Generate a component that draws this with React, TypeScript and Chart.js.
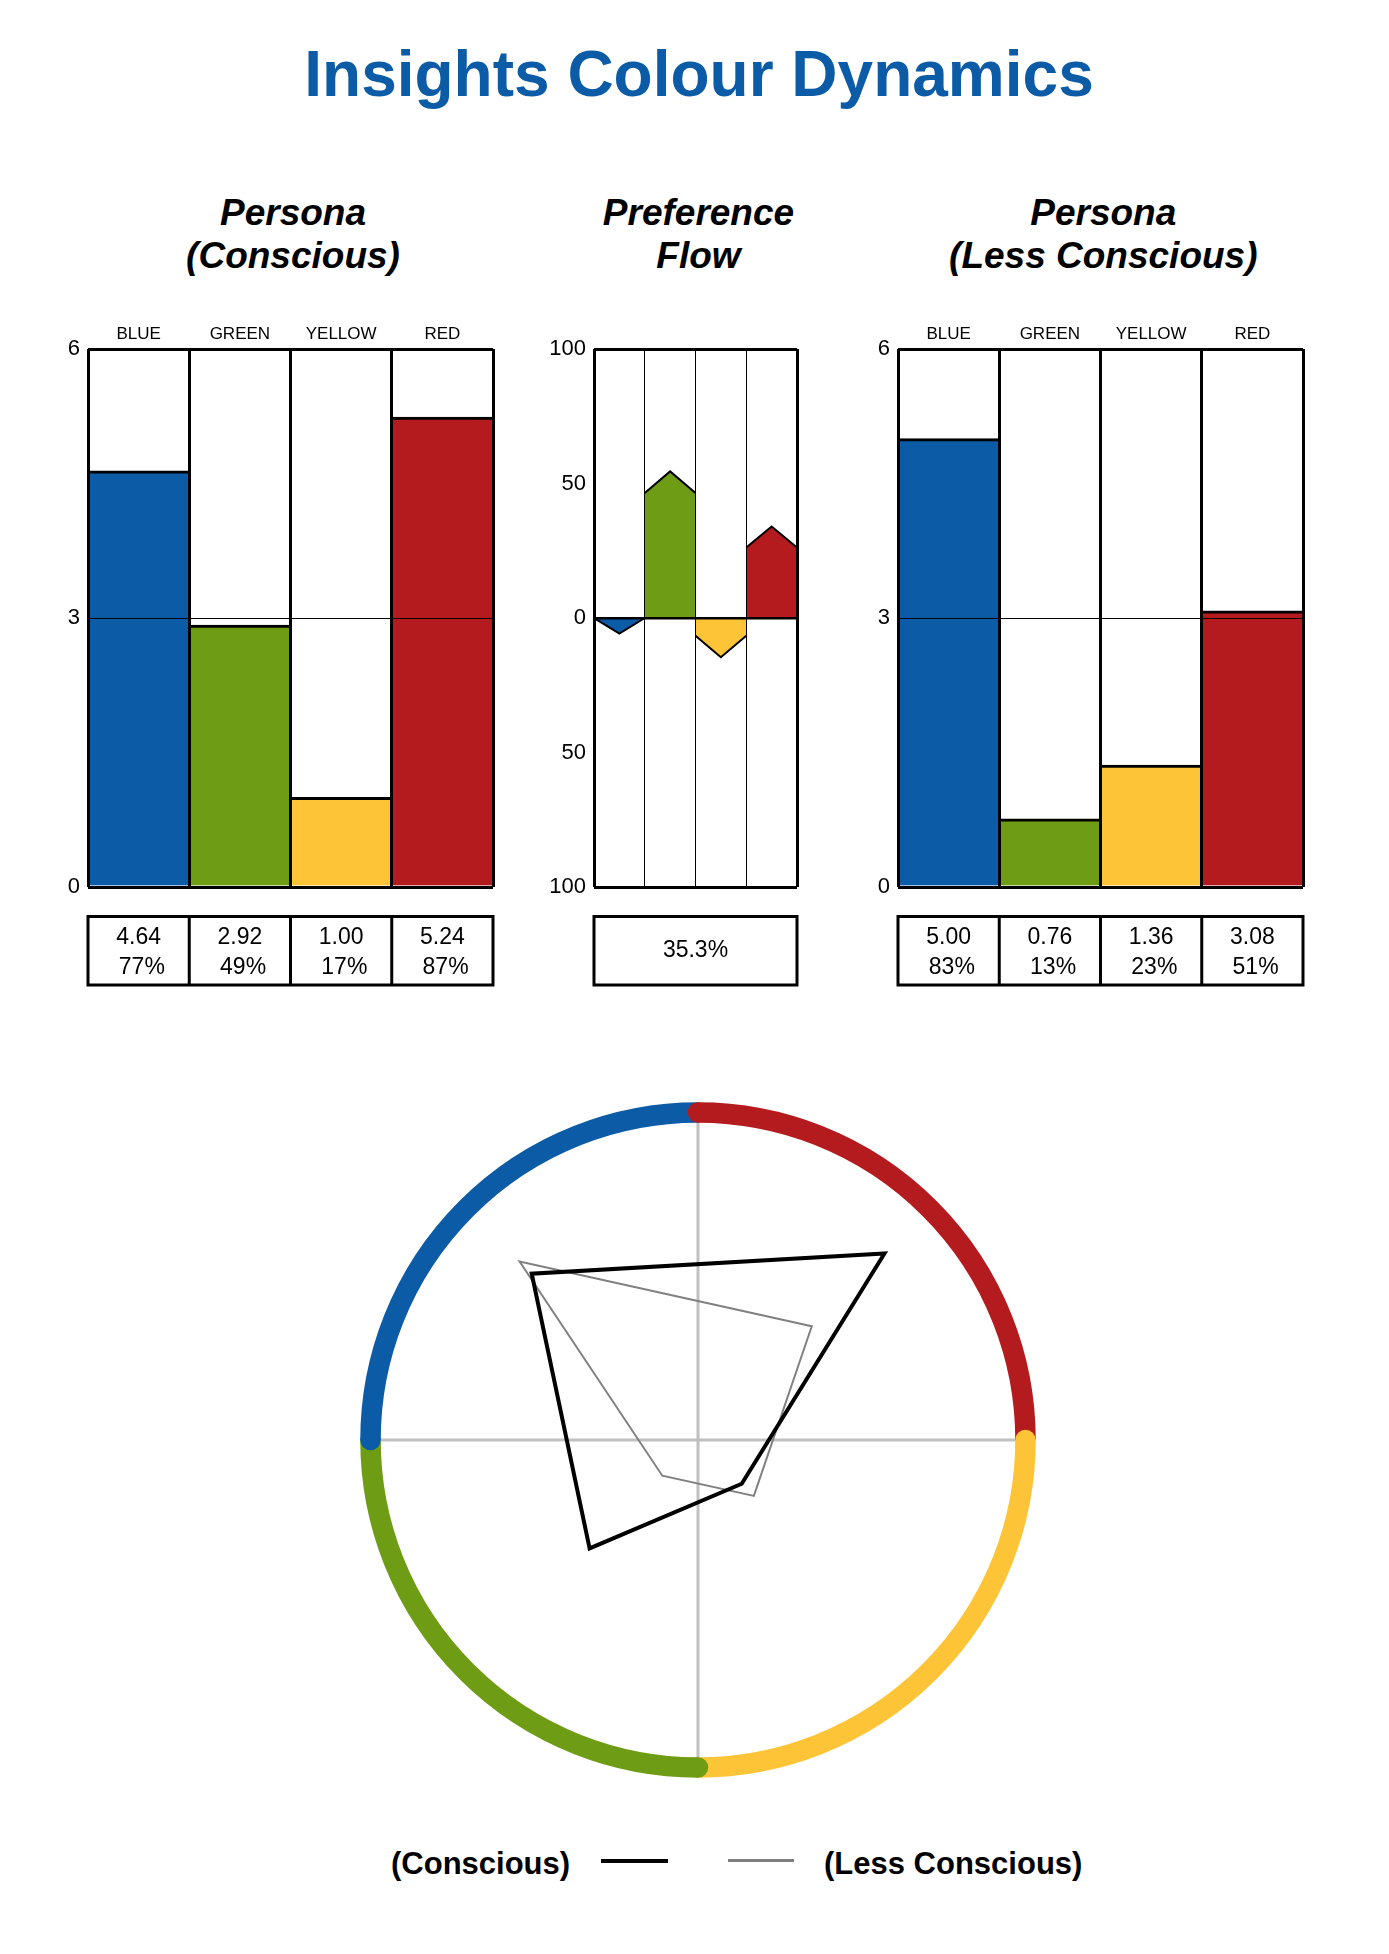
import React, { useEffect, useRef } from "react";
import { Chart, registerables } from "chart.js";

Chart.register(...registerables);

const FONT = '"Liberation Sans", Arial, Helvetica, sans-serif';
Chart.defaults.font.family = FONT;
Chart.defaults.color = "#000";

// ---------- data ----------
const categories = ["BLUE", "GREEN", "YELLOW", "RED"];
const colours = ["#0b5ba6", "#6f9c15", "#fdc437", "#b41b1f"];
const consciousScores = [4.64, 2.92, 1.0, 5.24];
const lessConsciousScores = [5.0, 0.76, 1.36, 3.08];
const personaMax = 6;
const personaTicks = [0, 3, 6];
const flowBase = [0, 46.5, -6.6, 26.2];
const flowTip = [-5.8, 54.5, -14.6, 34.0];
const flowTicks = [-100, -50, 0, 50, 100];
const flowScore = "35.3%";
const wheelSlots = ["", "RED", "", "YELLOW", "", "GREEN", "", "BLUE"];
const legendLabels = ["(Conscious)", "(Less Conscious)"];
const titleText = "Insights Colour Dynamics";
const panelTitles = [
  ["Persona", "(Conscious)"],
  ["Preference", "Flow"],
  ["Persona", "(Less Conscious)"],
];

// ---------- layout ----------
const BLUE_TITLE = "#0b5ba6";
const AXIS_W = 60;
const AXIS_H = 49;
const CANVAS_TOP = 300;
const CANVAS_H = 720;
const PLOT_H = 538;
const PAD_RIGHT = 10;
const PAD_BOTTOM = CANVAS_H - AXIS_H - PLOT_H;
const LEFT_AREA = 88;
const MID_AREA = 594;
const RIGHT_AREA = 898;
const WIDE_W = 405;
const MID_W = 203;

const valueTable = {
  id: "valueTable",
  afterDraw(chart: any, _args: any, opts: any) {
    const rows: string[][] = opts && opts.rows;
    if (!rows) return;
    const { ctx, chartArea: a } = chart;
    const top = a.bottom + 29.5;
    const h = 68.5;
    const n = rows.length;
    const w = (a.right - a.left) / n;
    ctx.save();
    ctx.strokeStyle = "#000";
    ctx.lineWidth = 3;
    ctx.strokeRect(a.left, top, a.right - a.left, h);
    for (let i = 1; i < n; i++) {
      ctx.beginPath();
      ctx.moveTo(a.left + i * w, top);
      ctx.lineTo(a.left + i * w, top + h);
      ctx.stroke();
    }
    ctx.fillStyle = "#000";
    ctx.font = `23px ${FONT}`;
    ctx.textAlign = "center";
    ctx.textBaseline = "alphabetic";
    rows.forEach((lines, i) => {
      const cx = a.left + (i + 0.5) * w;
      const bases = lines.length === 1 ? [40] : [27.2, 57.2];
      lines.forEach((t, j) => ctx.fillText(t, cx, top + bases[j]));
    });
    ctx.restore();
  },
};

const wheelRing = {
  id: "wheelRing",
  afterDatasetsDraw(chart: any) {
    const r = chart.scales.r;
    const { ctx } = chart;
    const radius = r.drawingArea + 9.5;
    const width = 20.5;
    const segs = wheelSlots.filter(Boolean);
    const start = (k: number) => -Math.PI / 2 + (k * 2 * Math.PI) / segs.length;
    ctx.save();
    ctx.lineWidth = width;
    ctx.lineCap = "butt";
    segs.forEach((name, k) => {
      ctx.strokeStyle = colours[categories.indexOf(name)];
      ctx.beginPath();
      ctx.arc(r.xCenter, r.yCenter, radius, start(k), start(k + 1));
      ctx.stroke();
    });
    segs.forEach((name, k) => {
      const a0 = start(k);
      ctx.fillStyle = colours[categories.indexOf(name)];
      ctx.beginPath();
      ctx.arc(r.xCenter + radius * Math.cos(a0), r.yCenter + radius * Math.sin(a0), width / 2, 0, Math.PI * 2);
      ctx.fill();
    });
    ctx.restore();
  },
};

const pct = (v: number) => " " + Math.round((v / personaMax) * 100) + "%";

function PersonaChart({ scores, areaLeft }: { scores: number[]; areaLeft: number }) {
  const ref = useRef<HTMLCanvasElement>(null);
  useEffect(() => {
    const chart = new Chart(ref.current as HTMLCanvasElement, {
      type: "bar",
      data: {
        labels: categories,
        datasets: [
          {
            data: scores,
            backgroundColor: colours,
            borderColor: "#000",
            borderWidth: { top: 3, right: 0, bottom: 0, left: 0 },
            categoryPercentage: 1,
            barPercentage: 1,
          },
        ],
      },
      options: {
        responsive: false,
        animation: false,
        events: [],
        layout: { padding: { top: 0, left: 0, right: PAD_RIGHT, bottom: PAD_BOTTOM } },
        plugins: {
          legend: { display: false },
          tooltip: { enabled: false },
          valueTable: { rows: scores.map((v) => [v.toFixed(2), pct(v)]) },
        } as any,
        scales: {
          x: {
            position: "top",
            offset: true,
            grid: { offset: true, color: "#000", lineWidth: 3, drawTicks: false, z: 1 },
            border: { display: false },
            ticks: { color: "#000", font: { size: 17 }, padding: 4, maxRotation: 0 },
            afterFit: (s: any) => {
              s.height = AXIS_H;
            },
          },
          y: {
            min: 0,
            max: personaMax,
            afterBuildTicks: (s: any) => {
              s.ticks = personaTicks.map((value) => ({ value }));
            },
            grid: {
              color: "#000",
              lineWidth: (c: any) =>
                c.tick && c.tick.value !== 0 && c.tick.value !== personaMax ? 1 : 3,
              drawTicks: false,
              z: 1,
            },
            border: { display: false },
            ticks: { color: "#000", font: { size: 22 }, padding: 8 },
            afterFit: (s: any) => {
              s.width = AXIS_W;
            },
          },
        } as any,
      },
      plugins: [valueTable as any],
    });
    return () => chart.destroy();
  }, []);
  return (
    <canvas
      ref={ref}
      width={AXIS_W + WIDE_W + PAD_RIGHT}
      height={CANVAS_H}
      style={{ position: "absolute", left: areaLeft - AXIS_W, top: CANVAS_TOP }}
    />
  );
}

function FlowChart() {
  const ref = useRef<HTMLCanvasElement>(null);
  useEffect(() => {
    const n = categories.length;
    const chart = new Chart(ref.current as HTMLCanvasElement, {
      type: "line",
      data: {
        datasets: categories.map((name, i) => ({
          label: name,
          data: [
            { x: i, y: flowBase[i] },
            { x: i + 0.5, y: flowTip[i] },
            { x: i + 1, y: flowBase[i] },
          ],
          backgroundColor: colours[i],
          borderColor: "#000",
          borderWidth: 2,
          fill: "origin",
          pointRadius: 0,
          tension: 0,
          borderJoinStyle: "miter",
        })),
      },
      options: {
        responsive: false,
        animation: false,
        events: [],
        layout: { padding: { top: 0, left: 0, right: PAD_RIGHT, bottom: PAD_BOTTOM } },
        plugins: {
          legend: { display: false },
          tooltip: { enabled: false },
          valueTable: { rows: [[flowScore]] },
        } as any,
        scales: {
          x: {
            type: "linear",
            position: "top",
            min: 0,
            max: n,
            afterBuildTicks: (s: any) => {
              s.ticks = Array.from({ length: n + 1 }, (_, i) => ({ value: i }));
            },
            grid: {
              color: "#000",
              lineWidth: (c: any) => (c.tick && (c.tick.value === 0 || c.tick.value === n) ? 3 : 1),
              drawTicks: false,
              z: 1,
            },
            border: { display: false },
            ticks: { display: false },
            afterFit: (s: any) => {
              s.height = AXIS_H;
            },
          },
          y: {
            min: -100,
            max: 100,
            afterBuildTicks: (s: any) => {
              s.ticks = flowTicks.map((value) => ({ value }));
            },
            grid: {
              color: (c: any) =>
                c.tick && Math.abs(c.tick.value) !== 0 && Math.abs(c.tick.value) !== 100
                  ? "rgba(0,0,0,0)"
                  : "#000",
              lineWidth: (c: any) => (c.tick && c.tick.value === 0 ? 2.5 : 3),
              drawTicks: false,
              z: 1,
            },
            border: { display: false },
            ticks: {
              color: "#000",
              font: { size: 22 },
              padding: 8,
              callback: (v: any) => String(Math.abs(Number(v))),
            },
            afterFit: (s: any) => {
              s.width = AXIS_W;
            },
          },
        } as any,
      },
      plugins: [valueTable as any],
    });
    return () => chart.destroy();
  }, []);
  return (
    <canvas
      ref={ref}
      width={AXIS_W + MID_W + PAD_RIGHT}
      height={CANVAS_H}
      style={{ position: "absolute", left: MID_AREA - AXIS_W, top: CANVAS_TOP }}
    />
  );
}

const toWheel = (scores: number[]) =>
  wheelSlots.map((s) => (s ? scores[categories.indexOf(s)] : null));

function WheelChart() {
  const ref = useRef<HTMLCanvasElement>(null);
  useEffect(() => {
    const chart = new Chart(ref.current as HTMLCanvasElement, {
      type: "radar",
      data: {
        labels: wheelSlots,
        datasets: [
          {
            label: legendLabels[0],
            data: toWheel(consciousScores),
            borderColor: "#000",
            borderWidth: 4,
            fill: false,
            pointRadius: 0,
            spanGaps: true,
            borderJoinStyle: "miter",
          },
          {
            label: legendLabels[1],
            data: toWheel(lessConsciousScores),
            borderColor: "#808080",
            borderWidth: 2,
            fill: false,
            pointRadius: 0,
            spanGaps: true,
            borderJoinStyle: "miter",
          },
        ],
      },
      options: {
        responsive: false,
        animation: false,
        events: [],
        layout: { padding: 25 },
        plugins: { legend: { display: false }, tooltip: { enabled: false } },
        scales: {
          r: {
            min: -0.3,
            max: 6.38,
            startAngle: 0,
            ticks: { display: false },
            grid: { display: false },
            pointLabels: { display: false },
            angleLines: {
              display: true,
              color: "#c0c0c0",
              lineWidth: (c: any) => (c.index % 2 === 0 ? 3 : 0),
            },
          },
        } as any,
      },
      plugins: [wheelRing as any],
    });
    return () => chart.destroy();
  }, []);
  return (
    <canvas
      ref={ref}
      width={686}
      height={686}
      style={{ position: "absolute", left: 355, top: 1097 }}
    />
  );
}

export default function App() {
  const subCenters = [293, 698.5, 1103.3];
  return (
    <div
      style={{
        position: "absolute",
        left: 0,
        top: 0,
        width: 1380,
        height: 1940,
        background: "#fff",
        fontFamily: FONT,
        color: "#000",
      }}
    >
      <div
        style={{
          position: "absolute",
          left: 299,
          width: 800,
          top: 42,
          textAlign: "center",
          fontWeight: "bold",
          fontSize: 64,
          lineHeight: "64px",
          color: BLUE_TITLE,
          whiteSpace: "nowrap",
        }}
      >
        {titleText}
      </div>
      {panelTitles.map((lines, i) => (
        <div
          key={i}
          style={{
            position: "absolute",
            left: subCenters[i] - 200,
            width: 400,
            top: 192.4,
            textAlign: "center",
            fontWeight: "bold",
            fontStyle: "italic",
            fontSize: 37,
            lineHeight: "42.5px",
            whiteSpace: "nowrap",
          }}
        >
          {lines[0]}
          <br />
          {lines[1]}
        </div>
      ))}
      <PersonaChart scores={consciousScores} areaLeft={LEFT_AREA} />
      <FlowChart />
      <PersonaChart scores={lessConsciousScores} areaLeft={RIGHT_AREA} />
      <WheelChart />
      <div
        style={{
          position: "absolute",
          left: 391,
          top: 1847.7,
          fontWeight: "bold",
          fontSize: 31,
          lineHeight: "31px",
          whiteSpace: "nowrap",
        }}
      >
        {legendLabels[0]}
      </div>
      <div style={{ position: "absolute", left: 601, top: 1858.7, width: 67, height: 4, background: "#000" }} />
      <div style={{ position: "absolute", left: 728, top: 1859.2, width: 66, height: 3, background: "#808080" }} />
      <div
        style={{
          position: "absolute",
          left: 824,
          top: 1847.7,
          fontWeight: "bold",
          fontSize: 31,
          lineHeight: "31px",
          whiteSpace: "nowrap",
        }}
      >
        {legendLabels[1]}
      </div>
    </div>
  );
}
